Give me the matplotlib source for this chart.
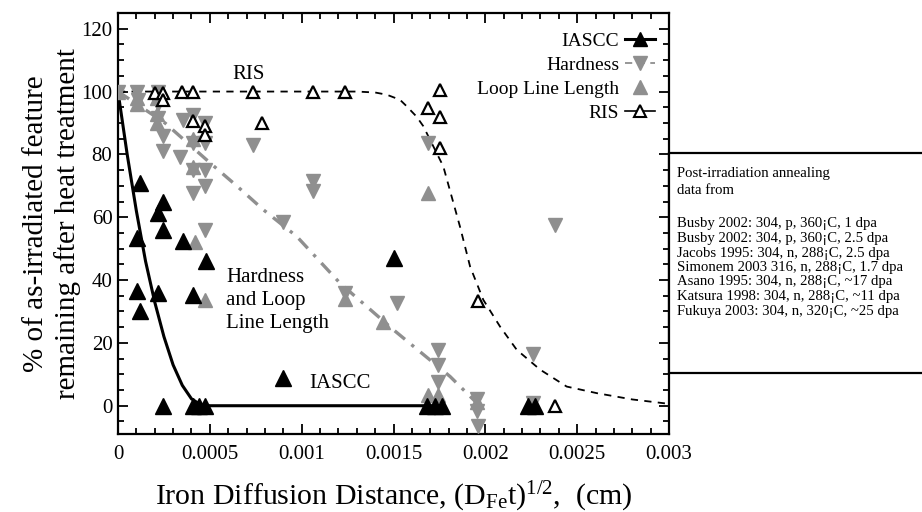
import matplotlib
matplotlib.use("Agg")
import matplotlib.pyplot as plt
from matplotlib.lines import Line2D
from matplotlib.patches import Rectangle
from matplotlib.ticker import MultipleLocator

plt.rcParams['font.family'] = ['Liberation Serif', 'DejaVu Serif']
plt.rcParams['mathtext.fontset'] = 'custom'
plt.rcParams['mathtext.rm'] = 'Liberation Serif'
plt.rcParams['mathtext.it'] = 'Liberation Serif'

# ---------------- data ----------------
iascc_x = [0.00012, 0.000243, 0.000216, 0.000243, 0.000102, 0.000356, 0.000479,
           0.000102, 0.00012, 0.000219, 0.00041, 0.000247, 0.00041, 0.00044,
           0.000474, 0.0009, 0.0015, 0.00168, 0.001726, 0.001764, 0.002234, 0.002271]
iascc_y = [70.9, 65, 61.5, 56, 53.4, 52.5, 46.2,
           36.4, 30, 35.9, 35.3, 0, 0, 0,
           0, 8.8, 47, 0, 0, 0, 0, 0]

hard_x = [0, 0.000103, 0.00011, 0.000219, 0.000219, 0.000219, 0.000247, 0.000247,
          0.000338, 0.000356, 0.00041, 0.00041, 0.00041, 0.00041, 0.000474, 0.000474,
          0.000474, 0.000474, 0.000474, 0.000737, 0.0009, 0.001063, 0.001063, 0.001236,
          0.001517, 0.00169, 0.001744, 0.001744, 0.001744, 0.001953, 0.001953, 0.001962,
          0.002258, 0.002261, 0.00238]
hard_y = [100, 100, 97.4, 100, 96, 91.6, 85.7, 81,
          79.3, 91, 92.6, 83.6, 75, 67.7, 90, 83.6,
          75, 69.8, 56, 83, 58.6, 71.4, 68.2, 36,
          32.7, 83.6, 17.8, 13, 7.7, 2, -1.8, -6.6,
          0.8, 16.5, 57.6]

loop_x = [0, 0.000103, 0.000103, 0.00021, 0.00021, 0.00021, 0.00041, 0.00041,
          0.000419, 0.000474, 0.001236, 0.001445, 0.00169, 0.00169, 0.001744, 0.001953]
loop_y = [100, 98, 96, 98, 93, 90, 85, 76,
          52, 33.8, 34, 26.8, 67.7, 3.5, 3.5, 1.3]

ris_x = [0.0002, 0.000247, 0.000247, 0.000347, 0.00041, 0.00041, 0.000474, 0.000474,
         0.000737, 0.000782, 0.001063, 0.001236, 0.00169, 0.001753, 0.001753, 0.001753,
         0.001962, 0.00238]
ris_y = [99.5, 99.5, 97.4, 100, 100, 90.5, 89, 86.2,
         100, 90, 100, 100, 94.7, 100.5, 92, 82,
         33.2, 0]

# fitted curves
iascc_fit_x = [0, 0.00005, 0.0001, 0.00015, 0.0002, 0.00025, 0.0003, 0.00035,
               0.0004, 0.00045, 0.0005, 0.00175]
iascc_fit_y = [100, 80, 62, 46, 33, 22, 13, 6.5, 2.2, 0.3, 0, 0]

ris_fit_x = [0, 0.0013, 0.0014, 0.001463, 0.001535, 0.001572, 0.001626, 0.001662,
             0.001771, 0.001862, 0.001917, 0.001989, 0.00208, 0.002171, 0.002298,
             0.002443, 0.002607, 0.0028, 0.003]
ris_fit_y = [100, 100, 99.7, 99, 97.4, 95.3, 92, 89,
             76.2, 57, 44.3, 33.7, 25.2, 17.8, 11.5,
             6.1, 4, 2, 0.6]

hl_fit_x = [0, 0.000256, 0.000501, 0.000646, 0.000791, 0.000973, 0.001209,
            0.001499, 0.001808, 0.001953, 0.00197]
hl_fit_y = [100, 90, 77.3, 70, 62.4, 53.9, 39, 24.2, 9.3, 0.9, 0]

legend_labels = ["IASCC", "Hardness", "Loop Line Length", "RIS"]

box_lines = ["Post-irradiation annealing", "data from", "",
             "Busby 2002: 304, p, 360\u00a1C, 1 dpa",
             "Busby 2002: 304, p, 360\u00a1C, 2.5 dpa",
             "Jacobs 1995: 304, n, 288\u00a1C, 2.5 dpa",
             "Simonem 2003 316, n, 288\u00a1C, 1.7 dpa",
             "Asano 1995: 304, n, 288\u00a1C, ~17 dpa",
             "Katsura 1998: 304, n, 288\u00a1C, ~11 dpa",
             "Fukuya 2003: 304, n, 320\u00a1C, ~25 dpa"]

xticks = [0, 0.0005, 0.001, 0.0015, 0.002, 0.0025, 0.003]
xticklabels = ["0", "0.0005", "0.001", "0.0015", "0.002", "0.0025", "0.003"]
yticks = [0, 20, 40, 60, 80, 100, 120]

# ---------------- figure ----------------
W, H = 922, 512
fig = plt.figure(figsize=(W / 100, H / 100), dpi=100)
ax = fig.add_axes([118 / W, 1 - 434 / H, (669 - 118) / W, (434 - 12.7) / H])

GRAY = '#8f8f8f'

ax.plot(iascc_fit_x, iascc_fit_y, color='black', lw=2.2, zorder=2)
ax.plot(ris_fit_x, ris_fit_y, color='black', lw=1.3, dashes=(4, 3.5), zorder=2)
ax.plot(hl_fit_x, hl_fit_y, color=GRAY, lw=2.4, dashes=(4, 2.5, 1, 2.5), zorder=2)

ax.plot(hard_x, hard_y, ls='none', marker='v', ms=10.5, color=GRAY, mec=GRAY, zorder=3)
ax.plot(loop_x, loop_y, ls='none', marker='^', ms=10.5, color=GRAY, mec=GRAY, zorder=3)
ax.plot(ris_x, ris_y, ls='none', marker='^', ms=9, mfc='white', mec='black', mew=1.6, zorder=4)
ax.plot(iascc_x, iascc_y, ls='none', marker='^', ms=11, color='black', zorder=5)

ax.set_xlim(0, 0.003)
ax.set_ylim(-9, 125.1)
ax.set_xticks(xticks)
ax.set_xticklabels(xticklabels)
ax.set_yticks(yticks)
ax.xaxis.set_minor_locator(MultipleLocator(0.0001))
ax.yaxis.set_minor_locator(MultipleLocator(5))
ax.tick_params(which='both', direction='in', top=True, right=True, width=1.3,
               labelsize=15)
ax.tick_params(which='major', length=7)
ax.tick_params(which='minor', length=4)
ax.tick_params(axis='x', pad=8)
ax.tick_params(axis='y', pad=4)
for s in ax.spines.values():
    s.set_linewidth(1.6)

ax.set_xlabel(r"Iron Diffusion Distance, (D$_{\mathrm{Fe}}$t)$^{1/2}$,  (cm)",
              fontsize=21.5, labelpad=11)
ax.set_ylabel("% of as-irradiated feature\nremaining after heat treatment",
              fontsize=21, labelpad=0, linespacing=1.25)

# in-plot annotations
ax.text(0.000712, 105.4, "RIS", fontsize=15, ha='center', va='center')
ax.text(0.00059, 33.5, "Hardness\nand Loop\nLine Length", fontsize=15,
        ha='left', va='center', linespacing=1.3)
ax.text(0.00104, 7.2, "IASCC", fontsize=15, ha='left', va='center')

# legend
handles = [
    Line2D([], [], color='black', lw=2.2, marker='^', ms=10, mfc='black'),
    Line2D([], [], color=GRAY, lw=1.3, ls=(0, (4, 3)), marker='v', ms=10, mfc=GRAY, mec=GRAY),
    Line2D([], [], color=GRAY, ls='none', marker='^', ms=10, mfc=GRAY, mec=GRAY),
    Line2D([], [], color='black', lw=1.2, marker='^', ms=8, mfc='white', mec='black', mew=1.5),
]
leg = ax.legend(handles, legend_labels, loc='upper right', markerfirst=False,
                frameon=False, fontsize=14, handlelength=1.55, handletextpad=0.3,
                labelspacing=0.33, borderaxespad=0.6, bbox_to_anchor=(1.01, 1.0))

# text box on the right
rect = Rectangle((669 / W, 1 - 373 / H), (W + 20 - 669) / W, (373 - 153) / H,
                 transform=fig.transFigure, facecolor='white', edgecolor='black',
                 lw=1.6, zorder=10, clip_on=False)
fig.patches.append(rect)
ys = [173, 190, 0, 224, 238.5, 253, 267.5, 282, 296.5, 311]
for line, yy in zip(box_lines, ys):
    if line:
        fig.text(677 / W, 1 - yy / H, line, fontsize=10.6, ha='left', va='center',
                 zorder=11)

fig.savefig("out.png", dpi=100)
